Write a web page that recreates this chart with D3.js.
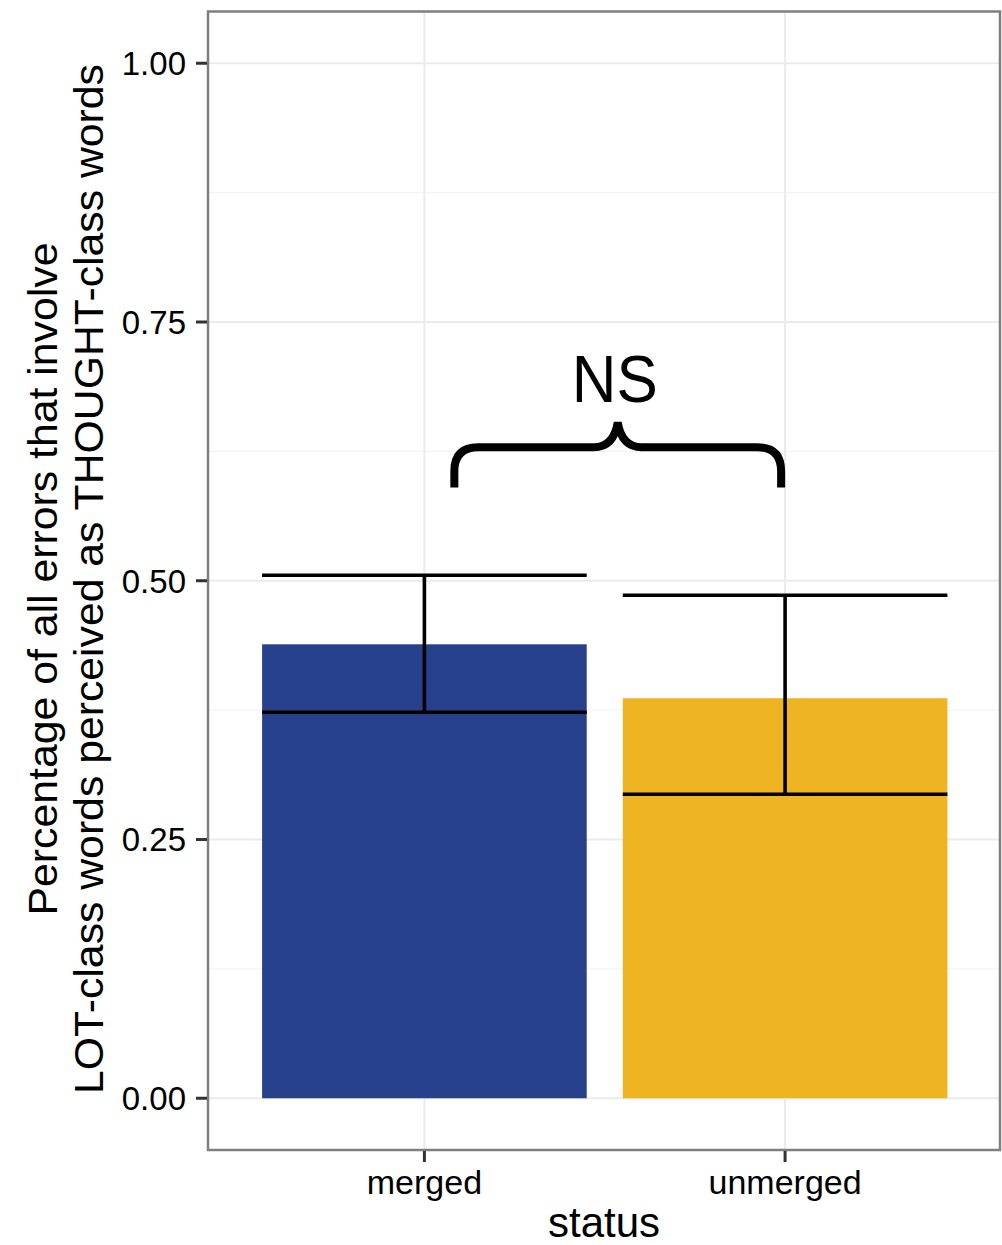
<!DOCTYPE html>
<html>
<head>
<meta charset="utf-8">
<script src="https://cdn.jsdelivr.net/npm/d3@7"></script>
<style>
  html, body { margin: 0; padding: 0; background: #ffffff; }
  text { font-family: "Liberation Sans", Arial, Helvetica, sans-serif; }
</style>
</head>
<body>
<svg id="chart" width="1002" height="1245"></svg>
<script>
// Mean share of errors and confidence interval per merger status
const categories = ["merged", "unmerged"];
const means = [0.4386, 0.3865];
const ciLow = [0.3729, 0.2937];
const ciHigh = [0.5053, 0.4860];
const barColors = ["#27408B", "#EEB422"];
const yTicks = [0, 0.25, 0.5, 0.75, 1.0];
const yTickLabels = ["0.00", "0.25", "0.50", "0.75", "1.00"];
const yMinor = [0.125, 0.375, 0.625, 0.875];

const svg = d3.select("#chart");
const panel = { left: 208, right: 1000, top: 11.5, bottom: 1150 };

// discrete x positions 1..n with ggplot-style 0.6 expansion
const xc = d3.scaleLinear().domain([0.4, 2.6]).range([panel.left, 1001.5]);
const xPos = c => xc(categories.indexOf(c) + 1);
const barHalf = 0.45;
const y = d3.scaleLinear().domain([-0.05, 1.05]).range([panel.bottom, panel.top]);

const g = svg.append("g");

// minor grid
g.selectAll("line.minor").data(yMinor).join("line")
  .attr("x1", panel.left).attr("x2", panel.right)
  .attr("y1", d => y(d)).attr("y2", d => y(d))
  .attr("stroke", "#f4f4f4").attr("stroke-width", 1.2);
// major grid
g.selectAll("line.majorY").data(yTicks).join("line")
  .attr("x1", panel.left).attr("x2", panel.right)
  .attr("y1", d => y(d)).attr("y2", d => y(d))
  .attr("stroke", "#ebebeb").attr("stroke-width", 2);
g.selectAll("line.majorX").data(categories).join("line")
  .attr("x1", d => xPos(d)).attr("x2", d => xPos(d))
  .attr("y1", panel.top).attr("y2", panel.bottom)
  .attr("stroke", "#ebebeb").attr("stroke-width", 2);

// bars
g.selectAll("rect.bar").data(categories).join("rect")
  .attr("x", (d, i) => xc(i + 1 - barHalf))
  .attr("width", (d, i) => xc(i + 1 + barHalf) - xc(i + 1 - barHalf))
  .attr("y", (d, i) => y(means[i]))
  .attr("height", (d, i) => y(0) - y(means[i]))
  .attr("fill", (d, i) => barColors[i]);

// error bars
const eb = g.selectAll("g.eb").data(categories).join("g")
  .attr("stroke", "#000").attr("stroke-width", 3.6).attr("fill", "none");
eb.append("line")
  .attr("x1", (d, i) => xc(i + 1)).attr("x2", (d, i) => xc(i + 1))
  .attr("y1", (d, i) => y(ciLow[i])).attr("y2", (d, i) => y(ciHigh[i]));
eb.append("line")
  .attr("x1", (d, i) => xc(i + 1 - barHalf)).attr("x2", (d, i) => xc(i + 1 + barHalf))
  .attr("y1", (d, i) => y(ciHigh[i])).attr("y2", (d, i) => y(ciHigh[i]));
eb.append("line")
  .attr("x1", (d, i) => xc(i + 1 - barHalf)).attr("x2", (d, i) => xc(i + 1 + barHalf))
  .attr("y1", (d, i) => y(ciLow[i])).attr("y2", (d, i) => y(ciLow[i]));

// significance brace and label (data coordinates)
const bL = 1.083, bR = 1.989, bC = 1.536;
const yTip = 0.590, yBar = 0.629, yPeak = 0.653;
const r = 24;
const braceD = [
  "M", xc(bL), y(yTip),
  "L", xc(bL), y(yBar) + r,
  "Q", xc(bL), y(yBar), xc(bL) + r, y(yBar),
  "L", xc(bC) - 24, y(yBar),
  "Q", xc(bC) - 4, y(yBar), xc(bC), y(yPeak),
  "Q", xc(bC) + 4, y(yBar), xc(bC) + 24, y(yBar),
  "L", xc(bR) - r, y(yBar),
  "Q", xc(bR), y(yBar), xc(bR), y(yBar) + r,
  "L", xc(bR), y(yTip)
].join(" ");
g.append("path").attr("d", braceD)
  .attr("fill", "none").attr("stroke", "#000").attr("stroke-width", 8);
g.append("text")
  .attr("x", xc(bC) - 3).attr("y", y(0.673))
  .attr("text-anchor", "middle")
  .attr("font-size", 66)
  .attr("textLength", 86).attr("lengthAdjust", "spacingAndGlyphs")
  .text("NS");

// panel border
g.append("rect")
  .attr("x", panel.left).attr("y", panel.top)
  .attr("width", panel.right - panel.left).attr("height", panel.bottom - panel.top)
  .attr("fill", "none").attr("stroke", "#7f7f7f").attr("stroke-width", 2.5);

// y axis ticks and labels
g.selectAll("line.ytick").data(yTicks).join("line")
  .attr("x1", panel.left - 12).attr("x2", panel.left - 1)
  .attr("y1", d => y(d)).attr("y2", d => y(d))
  .attr("stroke", "#333").attr("stroke-width", 3);
g.selectAll("text.ylab").data(yTicks).join("text")
  .attr("x", 186).attr("y", d => y(d))
  .attr("dy", "0.36em")
  .attr("text-anchor", "end")
  .attr("font-size", 33)
  .attr("fill", "#000")
  .text((d, i) => yTickLabels[i]);

// x axis ticks and labels
g.selectAll("line.xtick").data(categories).join("line")
  .attr("x1", d => xPos(d)).attr("x2", d => xPos(d))
  .attr("y1", panel.bottom + 1).attr("y2", panel.bottom + 12)
  .attr("stroke", "#333").attr("stroke-width", 3);
g.selectAll("text.xlab").data(categories).join("text")
  .attr("x", d => xPos(d)).attr("y", 1194)
  .attr("text-anchor", "middle")
  .attr("font-size", 34)
  .attr("fill", "#000")
  .text(d => d);

// axis titles
g.append("text")
  .attr("x", 604).attr("y", 1237)
  .attr("text-anchor", "middle")
  .attr("font-size", 42)
  .text("status");

const yTitle = g.append("g").attr("transform", "translate(0,579) rotate(-90)");
yTitle.append("text")
  .attr("x", 0).attr("y", 57)
  .attr("text-anchor", "middle")
  .attr("font-size", 41)
  .attr("textLength", 673).attr("lengthAdjust", "spacingAndGlyphs")
  .text("Percentage of all errors that involve");
yTitle.append("text")
  .attr("x", 0).attr("y", 103)
  .attr("text-anchor", "middle")
  .attr("font-size", 41)
  .attr("textLength", 1030).attr("lengthAdjust", "spacingAndGlyphs")
  .text("LOT-class words perceived as THOUGHT-class words");
</script>
</body>
</html>
